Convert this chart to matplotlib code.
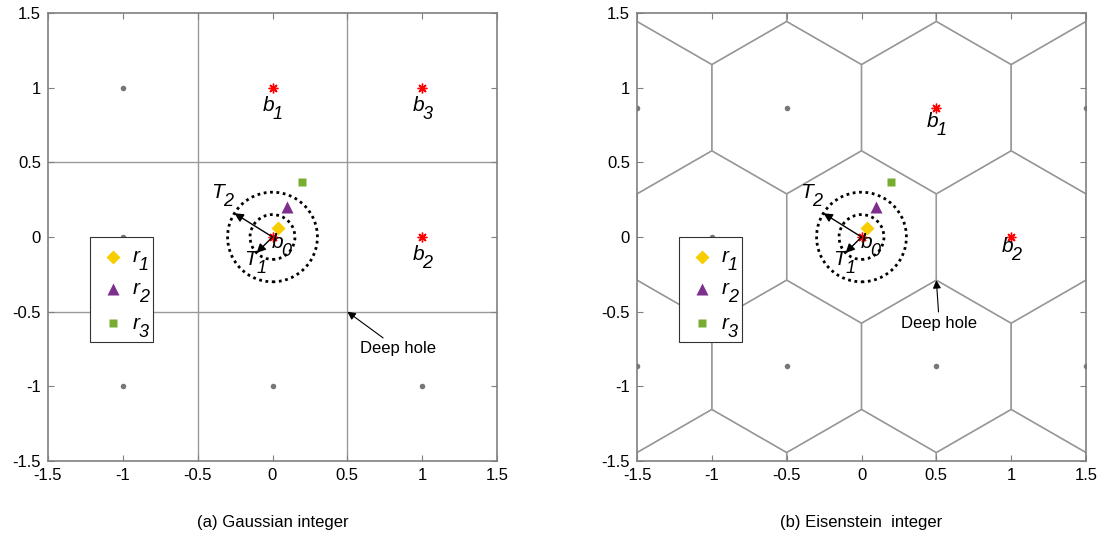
import numpy as np
import matplotlib
matplotlib.use("Agg")
import matplotlib.pyplot as plt
from matplotlib.patches import Circle, Polygon, Rectangle
from matplotlib.transforms import offset_copy

plt.rcParams['font.family'] = ['Liberation Sans', 'DejaVu Sans']

S3 = np.sqrt(3)

# received points r1, r2, r3 (same in both panels)
r_x = [0.04, 0.10, 0.20]
r_y = [0.06, 0.20, 0.37]
r_subs = ["1", "2", "3"]
r_markers = ["D", "^", "s"]
r_colors = ["#F7CD00", "#7E2F8E", "#77AC30"]
r_sizes = [7, 9, 6]

# radii of the two dotted circles (T1, T2)
radii = [0.15, 0.30]

# Gaussian integer panel
gauss_gray_x = [-1, -1, -1, 0, 1]
gauss_gray_y = [1, 0, -1, -1, -1]
gauss_red_x = [0, 0, 1, 1]
gauss_red_y = [0, 1, 1, 0]
gauss_subs = ["0", "1", "3", "2"]
gauss_label_dy = [0, 18, 18, 18]   # px below the star
gauss_hole = (0.5, -0.5)

# Eisenstein integer panel
eis_gray_x = [-1.5, -0.5, 1.5, -1, -1.5, -0.5, 0.5, 1.5]
eis_gray_y = [S3 / 2, S3 / 2, S3 / 2, 0, -S3 / 2, -S3 / 2, -S3 / 2, -S3 / 2]
eis_red_x = [0, 0.5, 1]
eis_red_y = [0, S3 / 2, 0]
eis_subs = ["0", "1", "2"]
eis_label_dy = [0, 14, 9]
eis_hole = (0.5, -S3 / 6)

TICKS = [-1.5, -1, -0.5, 0, 0.5, 1, 1.5]
TICKLABELS = ["-1.5", "-1", "-0.5", "0", "0.5", "1", "1.5"]
EDGE = "#999999"
FRAME = "#808080"


def sub_text(ax, x, y, main, sub, dx=0, dy=0, transform=None, sub_dx=9):
    # MATLAB-like label: italic letter and a large, low italic subscript
    base = ax.transData if transform is None else transform
    tr = offset_copy(base, fig=ax.figure, x=dx, y=-dy, units="dots")
    ax.text(x, y, main, transform=tr, fontsize=15, style="italic",
            ha="center", va="center", zorder=12)
    tr2 = offset_copy(base, fig=ax.figure, x=dx + sub_dx, y=-dy - 9, units="dots")
    ax.text(x, y, sub, transform=tr2, fontsize=13, style="italic",
            ha="center", va="center", zorder=12)


def setup(ax):
    ax.set_xlim(-1.5, 1.5)
    ax.set_ylim(-1.5, 1.5)
    ax.set_xticks(TICKS)
    ax.set_yticks(TICKS)
    ax.set_xticklabels(TICKLABELS)
    ax.set_yticklabels(TICKLABELS)
    ax.tick_params(direction="in", length=4, labelsize=12, color=FRAME,
                   top=True, right=True, pad=5)
    for s in ax.spines.values():
        s.set_color(FRAME)
        s.set_linewidth(1.2)


def legend_box(ax):
    # hand-made legend so the subscripts can look like the MATLAB ones
    ta = ax.transAxes
    ax.add_patch(Rectangle((0.0935, 0.265), 0.140, 0.235, transform=ta,
                           fc="white", ec="#333333", lw=0.8, zorder=10))
    rows = [0.456, 0.384, 0.307]
    for row, m, c, s, sub in zip(rows, r_markers, r_colors, r_sizes, r_subs):
        ax.plot([0.145], [row], m, color=c, ms=s, mec="none", transform=ta,
                zorder=11, clip_on=False)
        sub_text(ax, 0.196, row, "r", sub, transform=ta, sub_dx=8)


def common(ax, gray_x, gray_y, red_x, red_y, subs, label_dy, hole, hole_xy):
    ax.plot(gray_x, gray_y, "o", color="#777777", ms=4, mec="none", zorder=3)
    ax.plot(red_x, red_y, marker=(8, 2, 0), ls="none", color="red", ms=7,
            mew=1, zorder=5)
    for x, y, s, d in zip(red_x[1:], red_y[1:], subs[1:], label_dy[1:]):
        sub_text(ax, x, y, "b", s, dx=-4, dy=d)
    sub_text(ax, 0, 0, "b", subs[0], dx=5, dy=5)

    for r in radii:
        ax.add_patch(Circle((0, 0), r, fill=False, ls=(0, (1, 1.3)), lw=2,
                            color="black", zorder=4))
    # T2 and T1 arrows
    ang2 = np.deg2rad(148)
    ang1 = np.deg2rad(225)
    for r, a in zip(radii[::-1], [ang2, ang1]):
        ax.annotate("", xy=(r * np.cos(a), r * np.sin(a)), xytext=(0, 0),
                    arrowprops=dict(arrowstyle="-|>", color="black", lw=1,
                                    mutation_scale=13, shrinkA=0, shrinkB=0),
                    zorder=6)
    sub_text(ax, -0.37, 0.30, "T", "2", sub_dx=11)
    sub_text(ax, -0.15, -0.15, "T", "1", sub_dx=11)

    for x, y, m, c, s in zip(r_x, r_y, r_markers, r_colors, r_sizes):
        ax.plot(x, y, m, color=c, ms=s, mec="none", ls="none", zorder=5)
    legend_box(ax)

    ax.annotate("Deep hole", xy=hole, xytext=hole_xy, fontsize=12,
                ha="center", va="center",
                arrowprops=dict(arrowstyle="-|>", color="black", lw=0.8,
                                mutation_scale=12, shrinkA=1, shrinkB=0))


fig = plt.figure(figsize=(11.05, 5.43), dpi=100)
ax1 = fig.add_axes([48 / 1105, 82 / 543, 449 / 1105, 448 / 543])
ax2 = fig.add_axes([637 / 1105, 82 / 543, 449 / 1105, 448 / 543])

# panel (a): square Voronoi cells
setup(ax1)
for v in [-0.5, 0.5]:
    ax1.axvline(v, color=EDGE, lw=1, zorder=1)
    ax1.axhline(v, color=EDGE, lw=1, zorder=1)
common(ax1, gauss_gray_x, gauss_gray_y, gauss_red_x, gauss_red_y,
       gauss_subs, gauss_label_dy, gauss_hole, (0.84, -0.75))
ax1.text(0.5, -0.138, "(a) Gaussian integer", transform=ax1.transAxes,
         ha="center", va="center", fontsize=12)

# panel (b): hexagonal Voronoi cells of the Eisenstein lattice
setup(ax2)
hex_ang = np.deg2rad(np.arange(6) * 60 + 30)
for a in range(-4, 5):
    for b in range(-4, 5):
        cx = a + b * 0.5
        cy = b * S3 / 2
        if abs(cx) > 2.2 or abs(cy) > 2.2:
            continue
        verts = np.column_stack([cx + np.cos(hex_ang) / S3, cy + np.sin(hex_ang) / S3])
        ax2.add_patch(Polygon(verts, closed=True, fill=False, ec=EDGE, lw=1,
                              zorder=1, clip_on=True))
common(ax2, eis_gray_x, eis_gray_y, eis_red_x, eis_red_y,
       eis_subs, eis_label_dy, eis_hole, (0.52, -0.58))
ax2.text(0.5, -0.138, "(b) Eisenstein  integer", transform=ax2.transAxes,
         ha="center", va="center", fontsize=12)

fig.savefig("out.png", dpi=100)
